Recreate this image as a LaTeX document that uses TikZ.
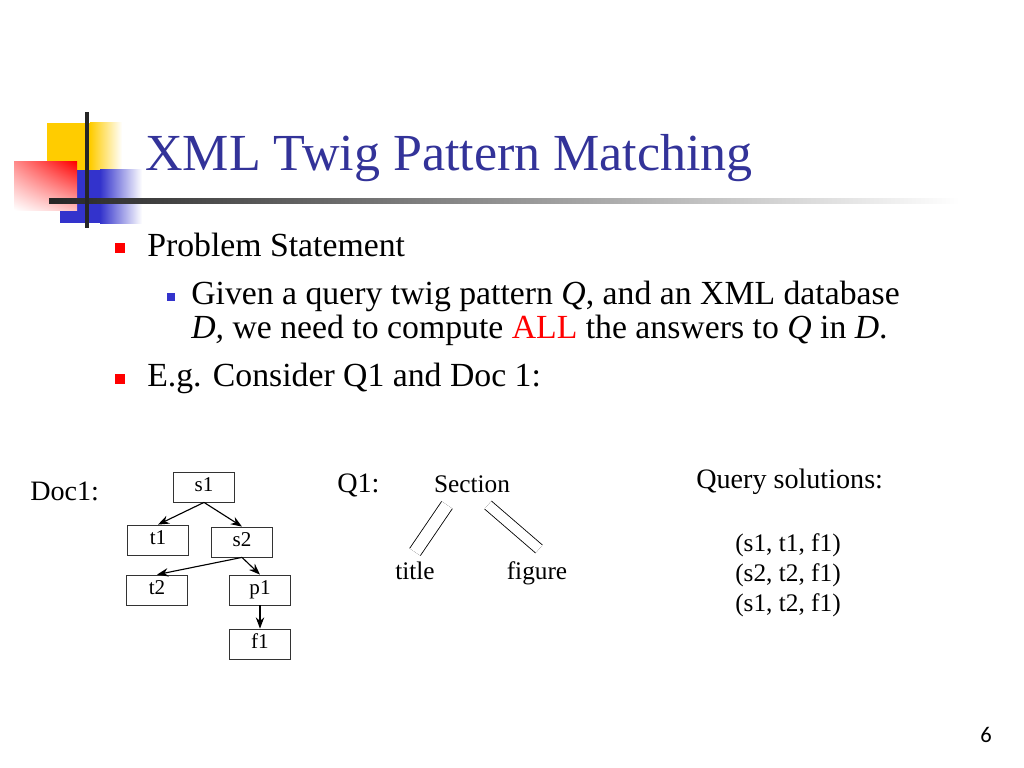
\documentclass[tikz,border=0pt]{standalone}
\usepackage{fontspec}
\setmainfont{Liberation Serif}
\newfontfamily\pagefont{Carlito}
\usepackage{xcolor}
\usetikzlibrary{positioning,calc,arrows.meta,shadings}

\definecolor{titleblue}{HTML}{333399}
\definecolor{bulletblue}{HTML}{3333CC}
\definecolor{decoyellow}{HTML}{FFCC00}

\tikzset{
  docbox/.style={draw=black!80, line width=0.6pt, minimum width=43.4pt, inner sep=0pt,
    text height=13.5pt, text depth=7.8pt, font=\fontsize{15}{17}\selectfont},
  link/.style={line width=0.8pt, -{Stealth[length=8pt,width=6pt]}},
  twin/.style={double, double distance=#1, line width=0.6pt},
  txt/.style={anchor=base west, inner sep=0pt},
  body/.style={txt, font=\fontsize{24}{28}\selectfont},
  small/.style={font=\fontsize{20}{24}\selectfont},
  tree/.style={anchor=base, inner sep=0pt, font=\fontsize{18}{21}\selectfont}
}

\begin{document}
\begin{tikzpicture}[x=0.025cm, y=-0.025cm]
  \path[fill=white] (0,0) rectangle (1024,768);
  \useasboundingbox (0,0) rectangle (1024,768);

  % corner decoration
  \fill[decoyellow] (47,123) rectangle (90,172);
  \shade[left color=decoyellow, right color=white] (90,123) rectangle (122,172);
  \fill[bulletblue] (60,170) rectangle (100,223);
  \shade[left color=bulletblue, right color=white] (100,170) rectangle (142,223);
  \shade[upper left=red!45, upper right=red, lower left=white, lower right=red!25] (14,162) rectangle (77,210);
  \shade[left color=black!85, middle color=black!30, right color=white] (49,198.5) rectangle (960,203.5);
  \fill[black!85] (85,112) rectangle (89,228);

  % title
  \node[txt, text=titleblue, font=\fontsize{37}{44}\selectfont] (heading) at (145,171) {XML Twig Pattern Matching};

  % bullets
  \node[fill=red, minimum size=7pt, inner sep=0pt] (b1) at (120,248) {};
  \node[body] (prob) at (147,256) {Problem Statement};
  \node[fill=bulletblue, minimum size=5.7pt, inner sep=0pt] (b2) at (171,297) {};
  \node[body] (given1) at (191,304) {Given a query twig pattern \textit{Q}, and an XML database};
  \node[body] (given2) at (191,338) {\textit{D,} we need to compute \textcolor{red}{ALL} the answers to \textit{Q} in \textit{D}.};
  \node[fill=red, minimum size=7pt, inner sep=0pt] (b3) at (120,379) {};
  \node[body] (eg) at (147,386) {E.g. Consider Q1 and Doc 1:};

  % Doc1 tree
  \node[txt, small] (doclab) at (30,500) {Doc1:};
  \node[docbox] (s1) at (204,487) {s1};
  \node[docbox] (t1) at (158,540) {t1};
  \node[docbox] (s2) at (242,542) {s2};
  \node[docbox] (t2) at (157,590) {t2};
  \node[docbox] (p1) at (260,590) {p1};
  \node[docbox] (f1) at (260,644) {f1};
  \draw[link] (s1.south) -- (t1.north);
  \draw[link] (s1.south) -- (s2.north);
  \draw[link] (s2.south) -- (t2.north);
  \draw[link] (s2.south) -- (p1.north);
  \draw[link] (p1.south) -- (f1.north);

  % Q1 twig
  \node[txt, small] (qlab) at (337,492) {Q1:};
  \node[tree] (qsec) at (472,492) {Section};
  \node[tree] (qtitle) at (415,579) {title};
  \node[tree] (qfig) at (537,579) {figure};
  \draw[twin=8.5pt] ($(qsec.base)+(-25,13)$) -- ($(qtitle.base)+(0,-27)$);
  \draw[twin=6.8pt] ($(qsec.base)+(16,13)$) -- ($(qfig.base)+(2,-30)$);

  % solutions
  \node[txt, small] (qsol) at (696,488) {Query solutions:};
  \node[txt, font=\fontsize{18}{21}\selectfont] (sol1) at (735,551) {(s1, t1, f1)};
  \node[txt, font=\fontsize{18}{21}\selectfont] (sol2) at (735,581) {(s2, t2, f1)};
  \node[txt, font=\fontsize{18}{21}\selectfont] (sol3) at (735,611) {(s1, t2, f1)};

  \node[anchor=base, inner sep=0pt, font=\pagefont\fontsize{16}{19}\selectfont] (pnum) at (986,742) {6};
\end{tikzpicture}
\end{document}
